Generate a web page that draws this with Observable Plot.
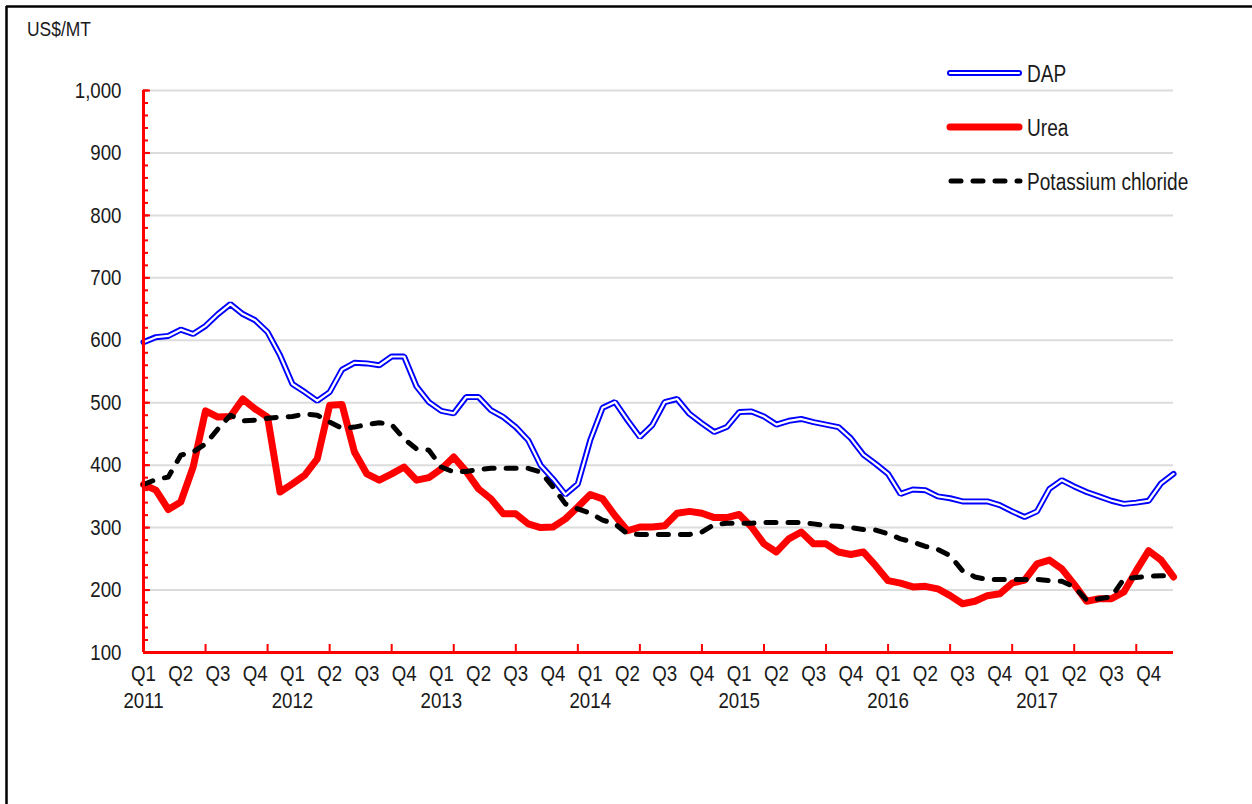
<!DOCTYPE html>
<html><head><meta charset="utf-8">
<script src="https://cdn.jsdelivr.net/npm/d3@7"></script>
<script src="https://cdn.jsdelivr.net/npm/@observablehq/plot@0.6"></script>
<style>
html,body{margin:0;padding:0;background:#fff;}
#wrap{position:relative;width:1252px;height:804px;overflow:hidden;background:#fff;}
#chart,#overlay{position:absolute;left:0;top:0;}
#overlay{pointer-events:none;}
</style></head>
<body>
<div id="wrap"><div id="chart"></div><svg id="overlay" width="1252" height="804"></svg></div>
<script>
// ---- data (monthly, Jan 2011 – Dec 2017), US$/MT ----
const monthIndex = d3.range(84);
const quarterLabels = ["Q1","Q2","Q3","Q4"];
const yearLabels = ["2011","2012","2013","2014","2015","2016","2017"];
const yTicks = [100,200,300,400,500,600,700,800,900,1000];
const seriesNames = ["DAP","Urea","Potassium chloride"];

const dap = [597,605,607,617,610,623,642,658,642,632,
             613,576,530,517,503,517,553,564,563,560,
             574,574,526,501,487,483,509,509,488,477,
             461,440,400,378,353,370,440,492,501,472,
             445,464,501,506,482,467,453,461,485,486,
             478,465,471,474,469,465,461,443,417,402,
             386,354,361,360,350,347,342,342,342,336,
             326,317,326,362,376,366,357,350,343,338,
             340,343,371,386];
const urea = [369,360,329,341,397,487,477,478,506,490,
              477,357,370,384,410,496,497,421,386,376,
              386,397,376,380,394,413,390,362,346,322,
              322,306,300,301,314,333,353,346,319,295,
              301,301,303,323,326,323,316,316,321,301,
              274,261,282,293,274,274,261,257,261,239,
              215,211,205,206,202,191,178,182,191,194,
              211,216,242,248,234,209,182,186,186,197,
              231,263,248,221];
const potassiumChloride = [369,377,381,416,421,434,458,480,471,472,
              475,477,478,482,480,469,459,461,465,468,
              465,442,426,424,397,389,390,393,395,395,
              395,395,389,365,338,330,323,312,306,290,
              289,289,289,289,289,293,305,307,307,307,
              308,308,308,308,306,303,302,300,297,296,
              290,282,277,270,265,255,231,221,217,217,
              217,217,217,215,214,205,184,186,189,218,
              220,222,223,223];

const rows = monthIndex.map(i => ({i, dap: dap[i], urea: urea[i], kcl: potassiumChloride[i]}));

const RED = "#ff0000", BLUE = "#0000ff";
const FONT = '"Liberation Sans Narrow","Arial Narrow","Liberation Sans",Arial,sans-serif';

const tick5 = monthIndex.filter(i => i % 5 === 0);
const qTicks = monthIndex.filter(i => i % 3 === 0);
const yrTicks = monthIndex.filter(i => i % 12 === 0);
const minorY = d3.range(100, 1001, 20);

const chart = Plot.plot({
  width: 1252, height: 804,
  marginLeft: 143, marginRight: 79, marginTop: 90, marginBottom: 152,
  style: {fontFamily: FONT, fontSize: "22.5px", background: "transparent", color: "#1a1a1a", overflow: "visible"},
  x: {domain: [0, 83], label: null},
  y: {domain: [100, 1000], label: null},
  marks: [
    Plot.gridY(yTicks.filter(v => v > 100), {stroke: "#dcdcdc", strokeOpacity: 1, strokeWidth: 2}),
    Plot.axisY({ticks: yTicks, tickSize: 0, tickPadding: 22, tickFormat: d3.format(","), fill: "#1a1a1a"}),
    Plot.axisY({ticks: minorY, tickSize: 5, dx: 5, tickFormat: () => "", stroke: RED, strokeWidth: 2}),
    Plot.axisY({ticks: yTicks, tickSize: 7, dx: 7, tickFormat: () => "", stroke: RED, strokeWidth: 2}),
    Plot.axisX({ticks: tick5, tickSize: 8, dy: -8, tickFormat: () => "", stroke: RED, strokeWidth: 2}),
    Plot.axisX({ticks: qTicks, tickSize: 0, tickPadding: 13, tickFormat: i => quarterLabels[(i / 3) % 4], fill: "#1a1a1a"}),
    Plot.axisX({ticks: yrTicks, tickSize: 0, tickPadding: 40, tickFormat: i => yearLabels[i / 12], fill: "#1a1a1a"}),
    Plot.line(rows, {x: "i", y: "dap", stroke: BLUE, strokeWidth: 6, strokeLinejoin: "miter"}),
    Plot.line(rows, {x: "i", y: "dap", stroke: "#fff", strokeWidth: 2.2}),
    Plot.line(rows, {x: "i", y: "urea", stroke: RED, strokeWidth: 7, strokeLinejoin: "round"}),
    Plot.line(rows, {x: "i", y: "kcl", stroke: "#000", strokeWidth: 5, strokeDasharray: "10,12", strokeLinecap: "round", strokeLinejoin: "round"}),
    Plot.ruleX([0], {stroke: RED, strokeWidth: 3}),
    Plot.ruleY([100], {stroke: RED, strokeWidth: 3})
  ]
});
document.getElementById("chart").append(chart);

// ---- overlay: frame, unit label, legend ----
const ov = d3.select("#overlay");
ov.append("line").attr("x1", 6).attr("x2", 1252).attr("y1", 6.5).attr("y2", 6.5).attr("stroke", "#000").attr("stroke-width", 2.5);
ov.append("line").attr("x1", 6.5).attr("x2", 6.5).attr("y1", 6).attr("y2", 804).attr("stroke", "#000").attr("stroke-width", 2.5);
ov.append("text").attr("x", 27).attr("y", 36).attr("font-family", FONT).attr("font-size", 21).attr("fill", "#1a1a1a").text("US$/MT");

const lg = ov.append("g").attr("font-family", FONT).attr("font-size", 23).attr("fill", "#1a1a1a");
const ly = [73, 127, 181];
lg.append("line").attr("x1", 950).attr("x2", 1019).attr("y1", ly[0]).attr("y2", ly[0]).attr("stroke", BLUE).attr("stroke-width", 6).attr("stroke-linecap", "round");
lg.append("line").attr("x1", 950).attr("x2", 1019).attr("y1", ly[0]).attr("y2", ly[0]).attr("stroke", "#fff").attr("stroke-width", 2.2).attr("stroke-linecap", "round");
lg.append("line").attr("x1", 950).attr("x2", 1019).attr("y1", ly[1]).attr("y2", ly[1]).attr("stroke", RED).attr("stroke-width", 7).attr("stroke-linecap", "round");
lg.append("line").attr("x1", 951).attr("x2", 1020).attr("y1", ly[2]).attr("y2", ly[2]).attr("stroke", "#000").attr("stroke-width", 5).attr("stroke-linecap", "round").attr("stroke-dasharray", "10,12");
seriesNames.forEach((n, k) => {
  lg.append("text").attr("x", 1027).attr("y", ly[k] + 8.5).text(n);
});

// emulate a narrow (condensed) face when no narrow font is installed
const narrowAvailable = document.fonts && document.fonts.check('22px "Liberation Sans Narrow"') &&
  (() => { const c = document.createElement("canvas").getContext("2d");
           c.font = '22px "Liberation Sans Narrow", monospace'; const a = c.measureText("Potassium").width;
           c.font = '22px monospace'; const b = c.measureText("Potassium").width; return a !== b; })();
if (!narrowAvailable) {
  document.querySelectorAll("#wrap text").forEach(t => {
    const len = t.getComputedTextLength();
    if (len > 0) { t.setAttribute("textLength", (len * 0.83).toFixed(2)); t.setAttribute("lengthAdjust", "spacingAndGlyphs"); }
  });
}
</script>
</body></html>
